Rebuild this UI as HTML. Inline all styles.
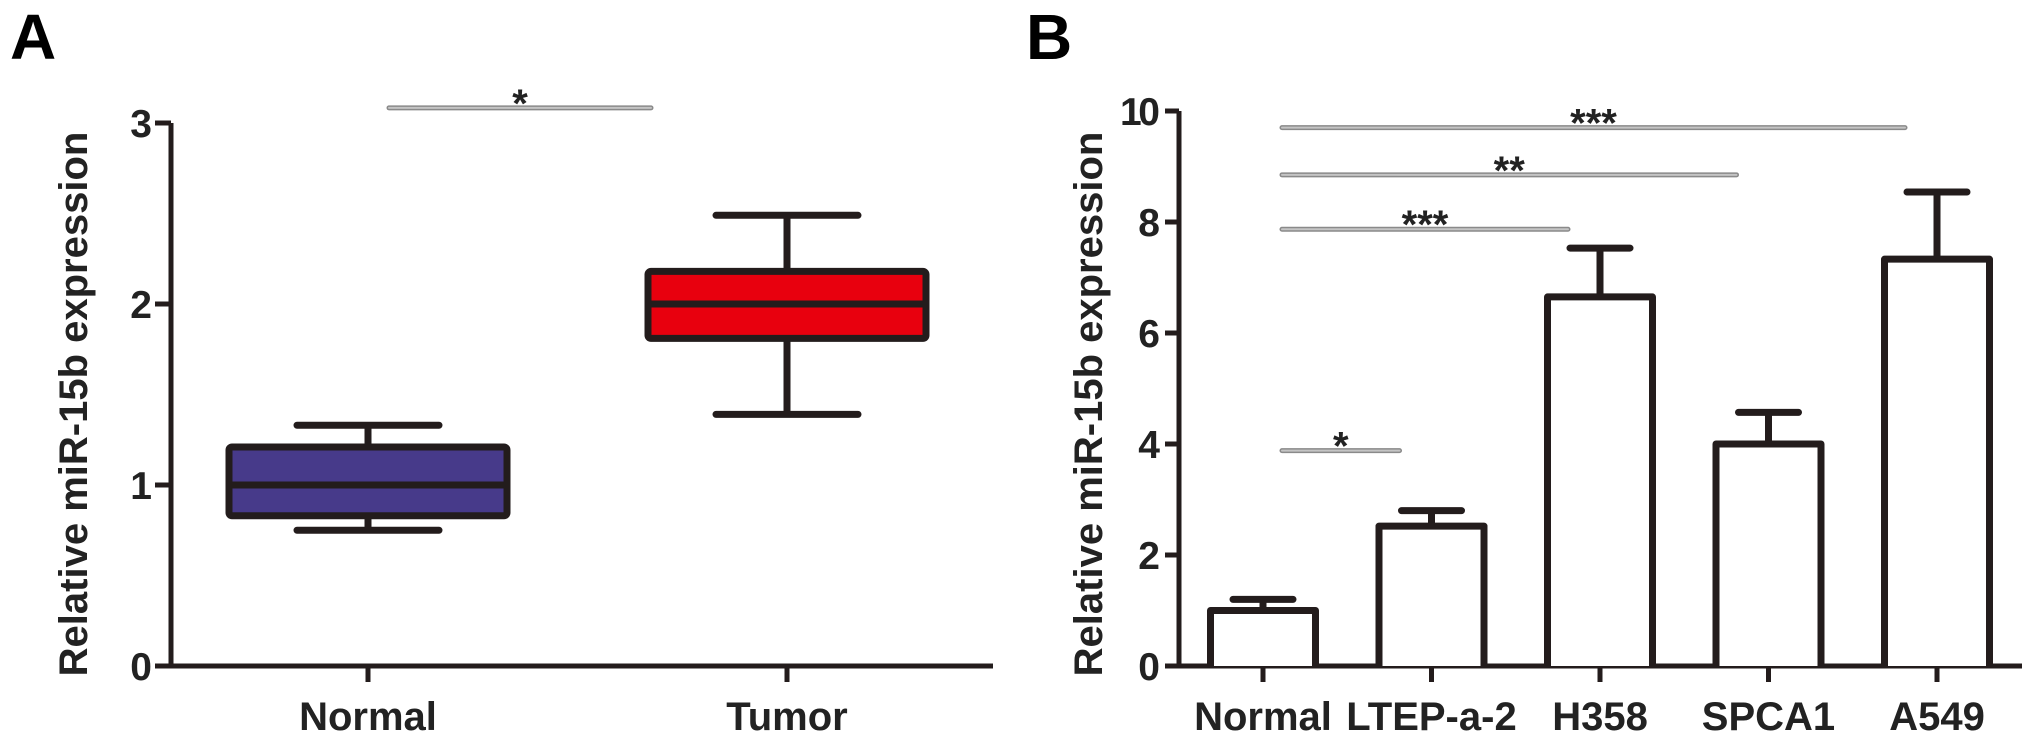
<!DOCTYPE html>
<html><head><meta charset="utf-8"><style>
html,body{margin:0;padding:0;background:#fff;}
svg{display:block;font-family:"Liberation Sans",Arial,sans-serif;font-weight:bold;}
</style></head><body>
<svg id="chart" width="2031" height="745" viewBox="0 0 2031 745" xmlns="http://www.w3.org/2000/svg">
<text x="10" y="59" font-size="64" fill="#000">A</text>
<text x="1026" y="59" font-size="64" fill="#000">B</text>
<text transform="translate(87,404) rotate(-90)" text-anchor="middle" font-size="40" fill="#222">Relative miR-15b expression</text>
<text transform="translate(1102,404) rotate(-90)" text-anchor="middle" font-size="40" fill="#222">Relative miR-15b expression</text>
<g id="pa"></g>
<g id="pb"></g>
</svg>
<script>
// Panel A data
const aCategories = ["Normal", "Tumor"];
const aMin = [0.75, 1.39];
const aQ1 = [0.83, 1.81];
const aMedian = [1.0, 2.0];
const aQ3 = [1.21, 2.18];
const aMax = [1.33, 2.49];
const aFill = ["#473a8a", "#e8000e"];
const aTicks = [0, 1, 2, 3];
const aSig = [{from: 0, to: 1, label: "*", y: 3.1}];

// Panel B data
const bCategories = ["Normal", "LTEP-a-2", "H358", "SPCA1", "A549"];
const bMeans = [1.0, 2.52, 6.65, 4.0, 7.33];
const bErrors = [0.2, 0.28, 0.88, 0.57, 1.21];
const bTicks = [0, 2, 4, 6, 8, 10];
const bSigFrom = [0, 0, 0, 0];
const bSigTo = [1, 2, 3, 4];
const bSigLabels = ["*", "***", "**", "***"];
const bSigY = [3.88, 7.87, 8.85, 9.7];

const NS = "http://www.w3.org/2000/svg";
function mk(parent, tag, attrs, text) {
  const e = document.createElementNS(NS, tag);
  for (const k in attrs) e.setAttribute(k, attrs[k]);
  if (text !== undefined) e.textContent = text;
  parent.appendChild(e);
  return e;
}
const INK = "#231c1c";

// ---- Panel A ----
(function () {
  const g = document.getElementById("pa");
  const x0 = 171, y0 = 666, yTop = 123, xEnd = 993;
  const yMaxV = 3;
  const yS = v => y0 - (v / yMaxV) * (y0 - yTop);
  const centers = [368, 787];
  const xS = i => centers[0] + i * (centers[1] - centers[0]);
  const boxW = 278, capW = 142;
  const ax = mk(g, "path", {d: `M${x0},${yTop} V${y0} H${xEnd}`, fill: "none", stroke: INK, "stroke-width": 5});
  
  
  aTicks.forEach(t => {
    const tk = mk(g, "line", {x1: x0 - 16, x2: x0, y1: yS(t), y2: yS(t), stroke: INK, "stroke-width": 5});
    
    
    const tl = mk(g, "text", {x: x0 - 19, y: yS(t) + 14, "text-anchor": "end", "font-size": 39, fill: "#222"}, String(t));
    
    
  });
  aCategories.forEach((c, i) => {
    const cx = xS(i);
    const tk = mk(g, "line", {x1: cx, x2: cx, y1: y0, y2: y0 + 16, stroke: INK, "stroke-width": 5});
    
    
    const tl = mk(g, "text", {x: cx, y: 730, "text-anchor": "middle", "font-size": 40, fill: "#222"}, c);
    
    
    const w = mk(g, "path", {d: `M${cx},${yS(aMax[i])} V${yS(aQ3[i])} M${cx},${yS(aQ1[i])} V${yS(aMin[i])} M${cx - capW / 2},${yS(aMax[i])} H${cx + capW / 2} M${cx - capW / 2},${yS(aMin[i])} H${cx + capW / 2}`, fill: "none", stroke: INK, "stroke-width": 7, "stroke-linecap": "round"});
    
    
    const b = mk(g, "rect", {x: cx - boxW / 2, y: yS(aQ3[i]), width: boxW, height: yS(aQ1[i]) - yS(aQ3[i]), rx: 3, fill: aFill[i], stroke: INK, "stroke-width": 7});
    
    
    const m = mk(g, "line", {x1: cx - boxW / 2, x2: cx + boxW / 2, y1: yS(aMedian[i]), y2: yS(aMedian[i]), stroke: INK, "stroke-width": 7});
    
    
  });
  aSig.forEach(s => {
    const xa = 389, xb = 651, yy = yS(s.y) + 3;
    const l1 = mk(g, "line", {x1: xa, x2: xb, y1: yy, y2: yy, stroke: "#8a8a8a", "stroke-width": 5, "stroke-linecap": "round"});
    
    
    mk(g, "line", {x1: xa, x2: xb, y1: yy, y2: yy, stroke: "#c4c4c4", "stroke-width": 2, "stroke-linecap": "round"});
    const st = mk(g, "text", {x: (xa + xb) / 2, y: yy + 9, "text-anchor": "middle", "font-size": 40, fill: "#222"}, s.label);
    
    
  });
})();

// ---- Panel B ----
(function () {
  const g = document.getElementById("pb");
  const x0 = 1179, y0 = 666, yTop = 111, xEnd = 2022;
  const yMaxV = 10;
  const yS = v => y0 - (v / yMaxV) * (y0 - yTop);
  const c0 = 1263, step = 168.5;
  const xS = i => c0 + i * step;
  const barW = 105, capW = 60;
  const ax = mk(g, "path", {d: `M${x0},${yTop} V${y0} H${xEnd}`, fill: "none", stroke: INK, "stroke-width": 5});
  
  
  bTicks.forEach(t => {
    const tk = mk(g, "line", {x1: x0 - 14, x2: x0, y1: yS(t), y2: yS(t), stroke: INK, "stroke-width": 5});
    
    
    const tl = mk(g, "text", {x: x0 - 19, y: yS(t) + 14, "text-anchor": "end", "font-size": 39, fill: "#222", "textLength": t >= 10 ? 40 : null}, String(t));
    if (t < 10) tl.removeAttribute("textLength");
    
    
  });
  bCategories.forEach((c, i) => {
    const cx = xS(i);
    const tk = mk(g, "line", {x1: cx, x2: cx, y1: y0, y2: y0 + 16, stroke: INK, "stroke-width": 5});
    
    
    const tl = mk(g, "text", {x: cx, y: 730, "text-anchor": "middle", "font-size": 40, fill: "#222"}, c);
    
    
    const top = yS(bMeans[i]), et = yS(bMeans[i] + bErrors[i]);
    const e = mk(g, "path", {d: `M${cx},${top} V${et} M${cx - capW / 2},${et} H${cx + capW / 2}`, fill: "none", stroke: INK, "stroke-width": 7, "stroke-linecap": "round"});
    
    
    const b = mk(g, "path", {d: `M${cx - barW / 2},${y0} V${top} H${cx + barW / 2} V${y0}`, fill: "#fff", stroke: INK, "stroke-width": 7, "stroke-linejoin": "round"});
    
    
  });
  bSigLabels.forEach((lab, k) => {
    const xa = 1282, xb = xS(bSigTo[k]) - 32, yy = yS(bSigY[k]);
    const l1 = mk(g, "line", {x1: xa, x2: xb, y1: yy, y2: yy, stroke: "#8a8a8a", "stroke-width": 5, "stroke-linecap": "round"});
    
    
    mk(g, "line", {x1: xa, x2: xb, y1: yy, y2: yy, stroke: "#c4c4c4", "stroke-width": 2, "stroke-linecap": "round"});
    const st = mk(g, "text", {x: (xa + xb) / 2, y: yy + 9, "text-anchor": "middle", "font-size": 40, fill: "#222"}, lab);
    
    
  });
})();
</script>
</body></html>
